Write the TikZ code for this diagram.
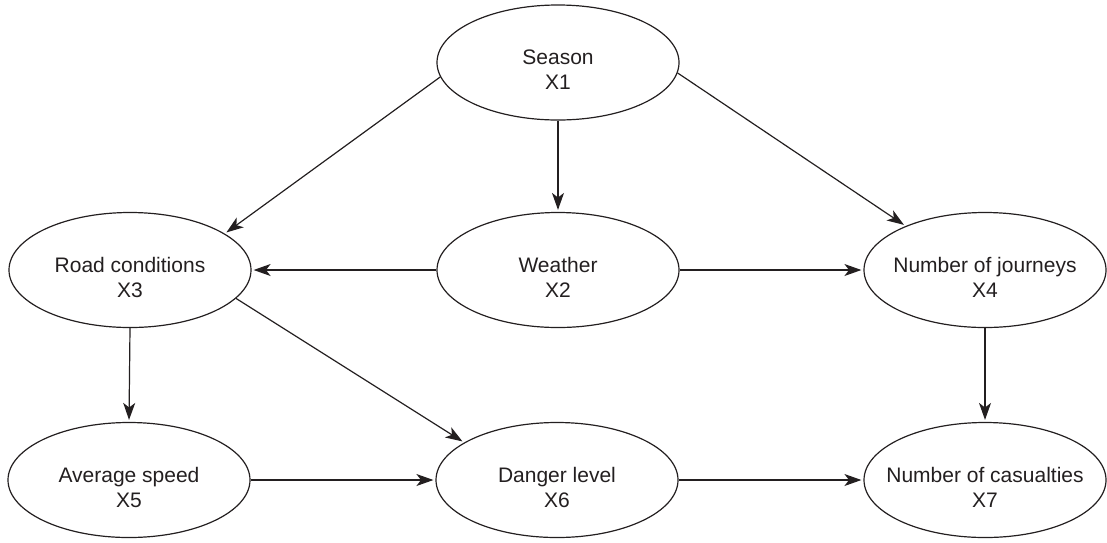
\documentclass[tikz,border=0pt]{standalone}
\usepackage{fontspec}
\setmainfont{Liberation Sans}
\usetikzlibrary{shapes.geometric,arrows.meta}
\definecolor{ink}{RGB}{35,31,32}
\begin{document}
\begin{tikzpicture}[x=0.5pt,y=-0.5pt,
  el/.style={ellipse,draw=ink,line width=0.6pt,minimum width=121pt,minimum height=57.5pt,inner sep=0pt},
  txt/.style={align=center,font=\fontsize{10.5}{12.5}\selectfont,text=ink,inner sep=0pt},
  arr/.style={draw=ink,line width=0.6pt,-{Stealth[length=8.5pt,width=6pt,inset=2.3pt]},shorten >=1pt}]
\useasboundingbox (0,0) rectangle (1107,542);
\node[el] (s) at (558,62.5) {};
\node[el] (w) at (558,270) {};
\node[el] (rc) at (130,270) {};
\node[el] (nj) at (985,270) {};
\node[el] (as) at (129,480) {};
\node[el] (dl) at (557,480) {};
\node[el] (nc) at (985,480) {};
\node[txt] (st) at ([yshift=-3.5pt]s.center) {Season\\X1};
\node[txt] (wt) at ([yshift=-3.5pt]w.center) {Weather\\X2};
\node[txt] (rct) at ([yshift=-3.5pt]rc.center) {Road conditions\\X3};
\node[txt] (njt) at ([yshift=-3.5pt]nj.center) {Number of journeys\\X4};
\node[txt] (ast) at ([yshift=-3.5pt]as.center) {Average speed\\X5};
\node[txt] (dlt) at ([yshift=-3.5pt]dl.center) {Danger level\\X6};
\node[txt] (nct) at ([yshift=-3.5pt]nc.center) {Number of casualties\\X7};
\draw[arr] (s.187.5) -- (rc.21.6);
\draw[arr] (s.south) -- (w.north);
\draw[arr] (s.355.5) -- (nj.151.7);
\draw[arr] (w.west) -- (rc.east);
\draw[arr] (w.east) -- (nj.west);
\draw[arr] (rc.south) -- (as.north);
\draw[arr] (rc.345) -- (dl.158);
\draw[arr] (as.east) -- (dl.west);
\draw[arr] (dl.east) -- (nc.west);
\draw[arr] (nj.south) -- (nc.north);
\end{tikzpicture}
\end{document}
